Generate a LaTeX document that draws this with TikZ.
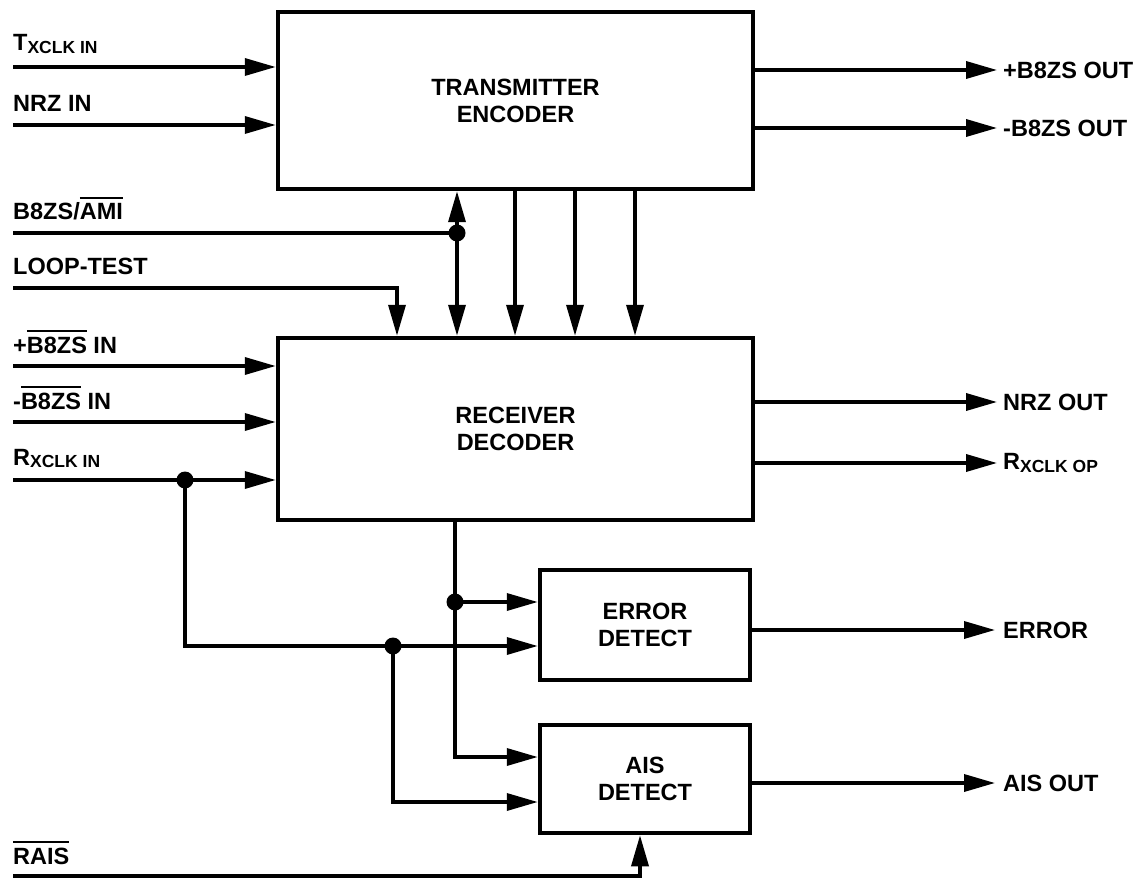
\documentclass[tikz,border=0pt]{standalone}
\usepackage{fontspec}
\setmainfont{Liberation Sans}
\usetikzlibrary{arrows.meta}
\newcommand\ovr[1]{\leavevmode\vbox{\hrule height 1.8pt\kern 5pt\hbox{#1}}}
\newcommand\sbs[2]{#1\raisebox{-2.5pt}{\fontsize{17.5}{17.5}\selectfont #2}}
\begin{document}
\begin{tikzpicture}[x=1pt,y=-1pt,
  font=\fontsize{23.5}{27}\selectfont\bfseries,
  wire/.style={line width=3.5pt},
  arr/.style={wire,-{Triangle[length=31pt,width=17pt]}},
  blk/.style={draw,line width=4.5pt,align=center,inner sep=0pt},
  lbl/.style={inner sep=0pt},
  dot/.style={circle,fill,inner sep=0pt,minimum size=17pt}]
\useasboundingbox (0,0) rectangle (1147,882);
% blocks
\node[blk,minimum width=475pt,minimum height=177pt] (te) at (515.5,100.5) {TRANSMITTER\\ENCODER};
\node[blk,minimum width=475pt,minimum height=182pt] (rd) at (515.5,429) {RECEIVER\\DECODER};
\node[blk,minimum width=210pt,minimum height=110pt] (ed) at (645,625) {ERROR\\DETECT};
\node[blk,minimum width=210pt,minimum height=108pt] (ais) at (645,779) {AIS\\DETECT};
% transmitter inputs
\coordinate (txs) at (13,67);
\node[lbl,anchor=base west] (ltx) at (13,51) {\sbs{T}{XCLK IN}};
\draw[arr] (txs) -- (txs -| te.west);
\coordinate (nrs) at (13,125);
\node[lbl,anchor=base west] (lnr) at (13,112) {NRZ IN};
\draw[arr] (nrs) -- (nrs -| te.west);
% transmitter outputs
\coordinate (pbo) at (997,70);
\draw[arr] (pbo -| te.east) -- (pbo);
\node[lbl,anchor=west] (lpbo) at (1003,70) {+B8ZS OUT};
\coordinate (mbo) at (997,128);
\draw[arr] (mbo -| te.east) -- (mbo);
\node[lbl,anchor=west] (lmbo) at (1003,128) {-B8ZS OUT};
% B8ZS/AMI
\coordinate (ams) at (13,233);
\node[lbl,anchor=base west] (lam) at (13,220) {B8ZS/\ovr{AMI}};
\node[dot] (d1) at (457,233) {};
\draw[wire] (ams) -- (d1.center);
\draw[arr] (d1.center) -- (d1 |- te.south);
\draw[arr] (d1.center) -- (d1 |- rd.north);
% LOOP-TEST
\coordinate (lts) at (13,288);
\coordinate (ltc) at (397,288);
\node[lbl,anchor=base west] (llt) at (13,275) {LOOP-TEST};
\draw[arr] (lts) -- (ltc) -- (ltc |- rd.north);
% encoder to decoder
\coordinate (v1) at (515,0);
\coordinate (v2) at (575,0);
\coordinate (v3) at (635,0);
\draw[arr] (v1 |- te.south) -- (v1 |- rd.north);
\draw[arr] (v2 |- te.south) -- (v2 |- rd.north);
\draw[arr] (v3 |- te.south) -- (v3 |- rd.north);
% receiver inputs
\coordinate (pbi) at (13,366);
\node[lbl,anchor=base west] (lpbi) at (13,353) {+\ovr{B8ZS} IN};
\draw[arr] (pbi) -- (pbi -| rd.west);
\coordinate (mbi) at (13,422);
\node[lbl,anchor=base west] (lmbi) at (13,409) {-\ovr{B8ZS} IN};
\draw[arr] (mbi) -- (mbi -| rd.west);
\coordinate (rxs) at (13,480);
\node[lbl,anchor=base west] (lrx) at (13,465) {\sbs{R}{XCLK IN}};
\node[dot] (d2) at (185,480) {};
\draw[wire] (rxs) -- (d2.center);
\draw[arr] (d2.center) -- (d2 -| rd.west);
% receiver outputs
\coordinate (nro) at (997,402);
\draw[arr] (nro -| rd.east) -- (nro);
\node[lbl,anchor=west] (lnro) at (1003,402) {NRZ OUT};
\coordinate (rxo) at (997,463);
\draw[arr] (rxo -| rd.east) -- (rxo);
\node[lbl,anchor=west] (lrxo) at (1003,463) {\sbs{R}{XCLK OP}};
% decoder to detectors
\node[dot] (d3) at (455,602) {};
\draw[wire] (d3 |- rd.south) -- (d3.center);
\draw[arr] (d3.center) -- (d3 -| ed.west);
\coordinate (c3) at (455,757);
\draw[arr] (d3.center) -- (c3) -- (c3 -| ais.west);
% clock to detectors
\coordinate (c4) at (185,646);
\node[dot] (d4) at (393,646) {};
\draw[wire] (d2.center) -- (c4) -- (d4.center);
\draw[arr] (d4.center) -- (d4 -| ed.west);
\coordinate (c5) at (393,802);
\draw[arr] (d4.center) -- (c5) -- (c5 -| ais.west);
% detector outputs
\coordinate (ero) at (995,630);
\draw[arr] (ero -| ed.east) -- (ero);
\node[lbl,anchor=west] (lero) at (1003,630) {ERROR};
\coordinate (aio) at (995,783);
\draw[arr] (aio -| ais.east) -- (aio);
\node[lbl,anchor=west] (laio) at (1003,783) {AIS OUT};
% RAIS
\coordinate (ras) at (13,876);
\coordinate (rac) at (640,876);
\node[lbl,anchor=base west] (lra) at (13,864) {\ovr{RAIS}};
\draw[arr] (ras) -- (rac) -- (rac |- ais.south);
\end{tikzpicture}
\end{document}
